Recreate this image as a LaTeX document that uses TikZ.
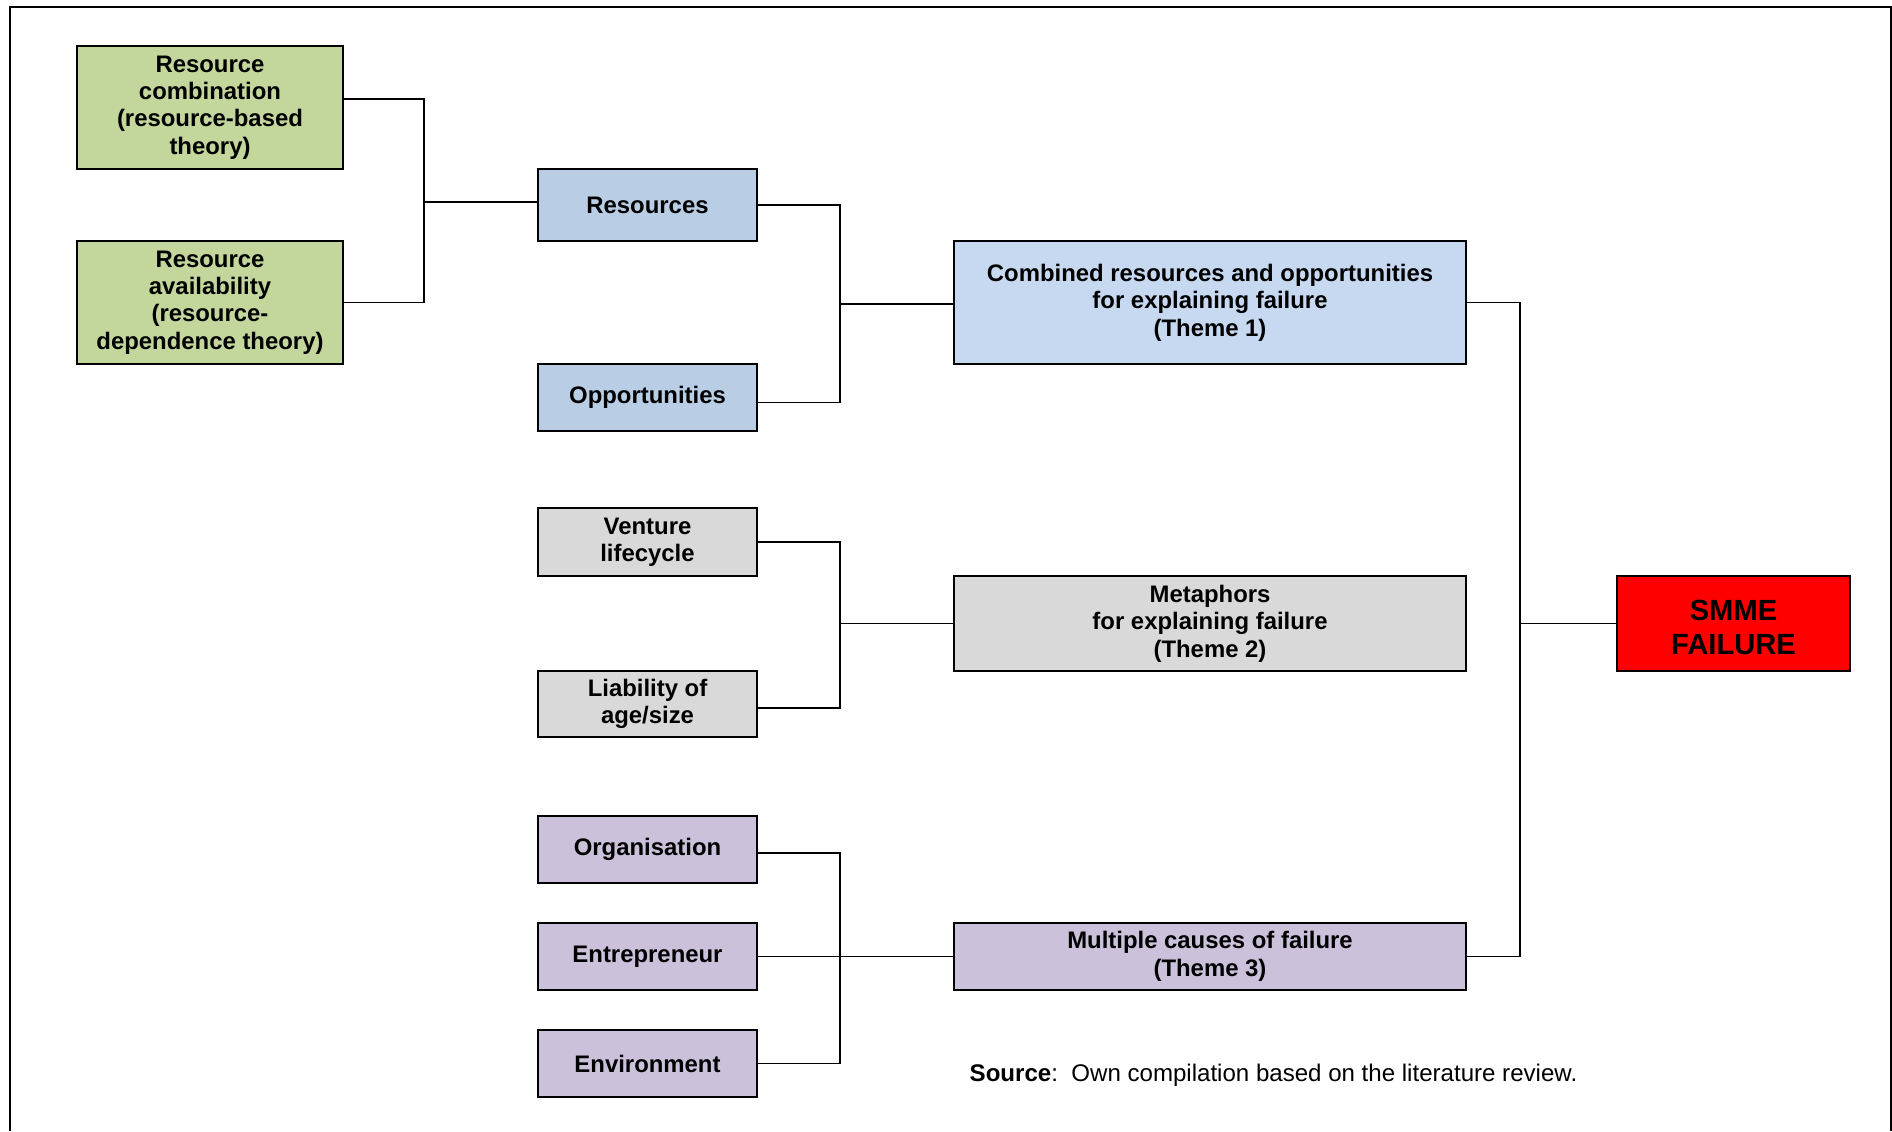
\documentclass[tikz,border=0pt]{standalone}
\usepackage{fontspec}
\setmainfont{Liberation Sans}
\usepackage{tikz}
\pgfdeclarelayer{bg}
\pgfsetlayers{bg,main}
\definecolor{greenfill}{HTML}{C3D69B}
\definecolor{bluefill}{HTML}{B9CDE5}
\definecolor{lightbluefill}{HTML}{C6D9F1}
\definecolor{grayfill}{HTML}{D9D9D9}
\definecolor{purplefill}{HTML}{CCC1DA}
\definecolor{redfill}{HTML}{FF0000}
\tikzset{
    every node/.style={rectangle, inner sep=0mm, align=center},
    box/.style={draw, line width=0.6pt, font=\bfseries\fontsize{6.8}{7.8}\selectfont},
    greenbox/.style={box, fill=greenfill, minimum width=2.66cm, minimum height=1.23cm},
    smallbox/.style={box, minimum width=2.19cm, minimum height=0.67cm},
    themebox/.style={box, minimum width=5.12cm},
    link/.style={line width=0.45pt}
}

\begin{document}
\begin{tikzpicture}
    \useasboundingbox (0cm, 0cm) rectangle (18.92cm, -11.31cm);
    \draw[line width=0.6pt] (0.10cm, -11.31cm) |- (18.91cm, -0.07cm) -- (18.91cm, -11.31cm);

    \node (rc) [greenbox] at (2.10cm, -1.075cm) {Resource\\combination\\(resource-based\\theory)};
    \node (ra) [greenbox] at (2.10cm, -3.025cm) {Resource\\availability\\(resource-\\dependence theory)};

    \node (res) [smallbox, fill=bluefill, minimum height=0.72cm] at (6.475cm, -2.05cm) {Resources};
    \node (opp) [smallbox, fill=bluefill] at (6.475cm, -3.975cm) {Opportunities};
    \node (vl) [smallbox, fill=grayfill, minimum height=0.68cm] at (6.475cm, -5.42cm) {Venture\\lifecycle};
    \node (lia) [smallbox, fill=grayfill, minimum height=0.66cm] at (6.475cm, -7.04cm) {Liability of\\age/size};
    \node (org) [smallbox, fill=purplefill] at (6.475cm, -8.495cm) {Organisation};
    \node (ent) [smallbox, fill=purplefill] at (6.475cm, -9.565cm) {Entrepreneur};
    \node (env) [smallbox, fill=purplefill] at (6.475cm, -10.635cm) {Environment};

    \node (th1) [themebox, fill=lightbluefill, minimum height=1.23cm] at (12.10cm, -3.025cm) {Combined resources and opportunities\\for explaining failure\\(Theme 1)};
    \node (th2) [themebox, fill=grayfill, minimum height=0.95cm] at (12.10cm, -6.235cm) {Metaphors\\for explaining failure\\(Theme 2)};
    \node (th3) [themebox, fill=purplefill, minimum height=0.67cm] at (12.10cm, -9.565cm) {Multiple causes of failure\\(Theme 3)};

    \node (smme) [box, fill=redfill, minimum width=2.33cm, minimum height=0.95cm, font=\bfseries\fontsize{8.3}{9.7}\selectfont] at (17.335cm, -6.235cm) {\rule{0pt}{8.2pt}SMME\\FAILURE};

    \node (src) [anchor=west, font=\fontsize{6.85}{8}\selectfont] at (9.69cm, -10.75cm) {\textbf{Source}:\ \ Own compilation based on the literature review.};

    \coordinate (jg) at (4.24cm, -2.02cm);
    \coordinate (j1) at (8.40cm, -3.04cm);
    \coordinate (j2) at (8.40cm, -6.235cm);
    \coordinate (j3) at (8.40cm, -9.565cm);
    \coordinate (jt) at (15.20cm, -6.235cm);

    \begin{pgfonlayer}{bg}
        \draw[link] ([yshift=0.085cm]rc.east) -| (jg) |- (ra.east);
        \draw[link] (jg) -- (jg -| res.west);
        \draw[link] (res.east) -| (j1) |- ([yshift=-0.05cm]opp.east);
        \draw[link] (j1) -- (j1 -| th1.west);
        \draw[link] (vl.east) -| (j2) |- ([yshift=-0.04cm]lia.east);
        \draw[link] (j2) -- (th2.west);
        \draw[link] ([yshift=-0.035cm]org.east) -| (j3) |- (env.east);
        \draw[link] (ent.east) -- (th3.west);
        \draw[link] (th1.east) -| (jt) |- (th3.east);
        \draw[link] (jt) -- (smme.west);
    \end{pgfonlayer}
\end{tikzpicture}
\end{document}
